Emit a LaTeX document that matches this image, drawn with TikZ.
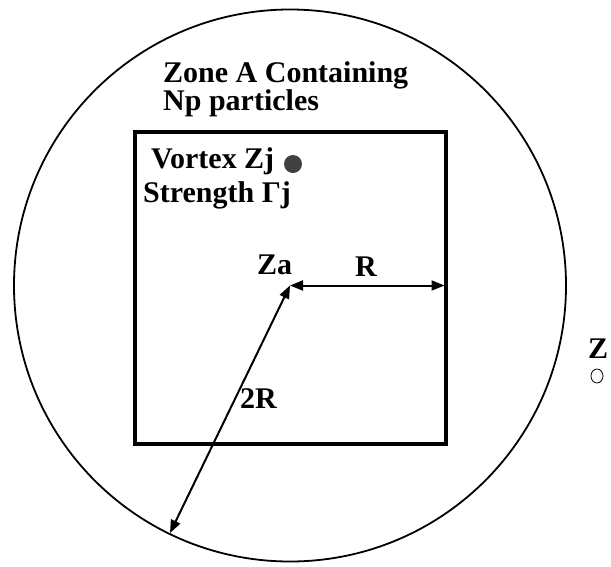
\documentclass[tikz,border=0pt]{standalone}
\usepackage{fontspec}
\setmainfont{Liberation Serif}
\usetikzlibrary{arrows.meta,shapes.geometric}
\begin{document}
\begin{tikzpicture}[x=1pt,y=-1pt,
  lbl/.style={font=\fontsize{30}{32}\selectfont\bfseries, inner sep=0pt, anchor=base west},
  dimarrow/.style={line width=2pt, {Triangle[length=13pt,width=10pt]}-{Triangle[length=13pt,width=10pt]}}]
\useasboundingbox (0,0) rectangle (611,566);
% outer circle (zone boundary)
\coordinate (Za) at (290,285.5);
\node[circle, draw, line width=1.8pt, minimum size=552pt, inner sep=0pt] (zone) at (Za) {};
% square
\node[draw, line width=3.5pt, minimum width=311pt, minimum height=312pt, inner sep=0pt] (box) at (290.5,288) {};
% texts
\node[lbl] (t1) at (163,82) {Zone A Containing};
\node[lbl] (t2) at (163,110) {Np particles};
\node[lbl] (t3) at (151,168) {Vortex Zj};
\node[circle, fill=black!75, inner sep=0pt, minimum size=18pt] (dot) at (293,164) {};
\node[lbl] (t4) at (143,202) {Strength Γj};
\node[lbl] (za) at (257,274) {Za};
\node[lbl, anchor=base] (r) at (366,276) {R};
\node[lbl] (r2) at (240,408) {2R};
\node[lbl, anchor=base] (z) at (598,358) {Z};
\node[ellipse, draw, line width=0.8pt, minimum width=12pt, minimum height=14pt, inner sep=0pt] (zp) at (597,376) {};
% dimension arrows
\coordinate (rend) at (444.5,285.5);
\coordinate (cend) at (170,533);
\draw[dimarrow] (Za) -- (rend);
\draw[dimarrow] (Za) -- (cend);
\end{tikzpicture}
\end{document}
